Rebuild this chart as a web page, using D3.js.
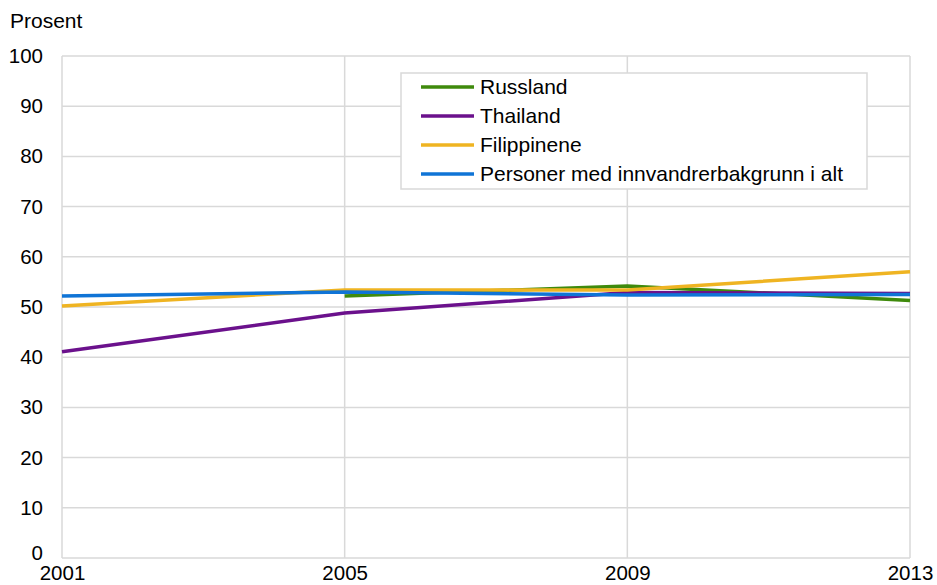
<!DOCTYPE html>
<html>
<head>
<meta charset="utf-8">
<script src="https://cdn.jsdelivr.net/npm/d3@7"></script>
<style>
  body { margin: 0; background: #fff; }
  svg { font-family: "Liberation Sans", Arial, sans-serif; }
</style>
</head>
<body>
<svg id="chart" width="937" height="585"></svg>
<script>
// years on the x axis
const years = [2001, 2005, 2009, 2013];
const yTicks = [0, 10, 20, 30, 40, 50, 60, 70, 80, 90, 100];

// series values (percent), null = no data
const russland = [null, 52.2, 54.2, 51.3];
const thailand = [41.1, 48.8, 52.9, 52.7];
const filippinene = [50.2, 53.4, 53.4, 57.0];
const alle = [52.2, 53.0, 52.4, 52.5];

const seriesNames = ["Russland", "Thailand", "Filippinene", "Personer med innvandrerbakgrunn i alt"];
const seriesColors = ["#3f8a0c", "#6b118c", "#efb422", "#0f74d6"];
const seriesValues = [russland, thailand, filippinene, alle];

const margin = { top: 56, right: 27, bottom: 27, left: 62 };
const width = 937 - margin.left - margin.right;
const height = 585 - margin.top - margin.bottom;

const svg = d3.select("#chart");
const g = svg.append("g")
    .attr("transform", "translate(" + margin.left + "," + margin.top + ")");

const x = d3.scaleLinear().domain([2001, 2013]).range([0, width]);
const y = d3.scaleLinear().domain([0, 100]).range([height, 0]);

// horizontal grid
g.append("g")
    .selectAll("line")
    .data(yTicks)
    .enter()
    .append("line")
    .attr("x1", 0)
    .attr("x2", width)
    .attr("y1", d => y(d))
    .attr("y2", d => y(d))
    .attr("stroke", "#d9d9d9")
    .attr("stroke-width", 1.5);

// vertical grid
g.append("g")
    .selectAll("line")
    .data(years)
    .enter()
    .append("line")
    .attr("x1", d => x(d))
    .attr("x2", d => x(d))
    .attr("y1", 0)
    .attr("y2", height)
    .attr("stroke", "#d9d9d9")
    .attr("stroke-width", 1.5);

// y axis labels
const yAxis = g.append("g")
    .call(d3.axisLeft(y).tickValues(yTicks).tickSize(0).tickPadding(19));
yAxis.select(".domain").remove();
yAxis.selectAll("text")
    .attr("font-size", 20.5)
    .attr("font-family", "Liberation Sans, Arial, sans-serif")
    .attr("fill", "#000");
// the 0 label sits a bit higher so it clears the year labels
yAxis.selectAll(".tick")
    .filter(d => d === 0)
    .select("text")
    .attr("y", -5);

// x axis labels
const xAxis = g.append("g")
    .attr("transform", "translate(0," + height + ")")
    .call(d3.axisBottom(x).tickValues(years).tickFormat(d3.format("d")).tickSize(0).tickPadding(7));
xAxis.select(".domain").remove();
xAxis.selectAll("text")
    .attr("font-size", 20.5)
    .attr("font-family", "Liberation Sans, Arial, sans-serif")
    .attr("fill", "#000");

svg.append("text")
    .attr("x", 10)
    .attr("y", 28)
    .attr("font-size", 21)
    .text("Prosent");

// lines
const line = d3.line()
    .defined(d => d[1] !== null)
    .x(d => x(d[0]))
    .y(d => y(d[1]));

seriesValues.forEach((vals, i) => {
    g.append("path")
        .datum(years.map((yr, j) => [yr, vals[j]]))
        .attr("fill", "none")
        .attr("stroke", seriesColors[i])
        .attr("stroke-width", 3.5)
        .attr("d", line);
});

// legend
const legend = svg.append("g").attr("transform", "translate(401,73)");
legend.append("rect")
    .attr("width", 466)
    .attr("height", 116)
    .attr("fill", "#fff")
    .attr("stroke", "#d9d9d9")
    .attr("stroke-width", 1.5);

seriesNames.forEach((name, i) => {
    const row = legend.append("g").attr("transform", "translate(0," + (14 + i * 29) + ")");
    row.append("line")
        .attr("x1", 20)
        .attr("x2", 73)
        .attr("stroke", seriesColors[i])
        .attr("stroke-width", 3.5);
    row.append("text")
        .attr("x", 79)
        .attr("dy", "0.35em")
        .attr("font-size", 21)
        .text(name);
});
</script>
</body>
</html>
